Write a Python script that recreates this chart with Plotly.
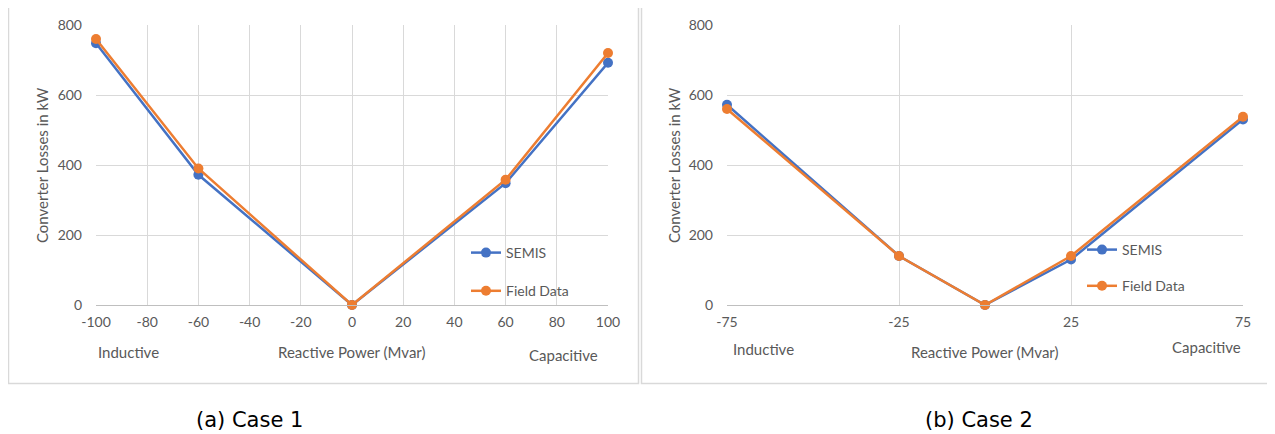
import plotly.graph_objects as go

# Case 1 data
x1 = [-100, -60, 0, 60, 100]
semis1 = [748, 372, 0, 348, 692]
field1 = [760, 390, 0, 358, 720]
x1_ticks = [-100, -80, -60, -40, -20, 0, 20, 40, 60, 80, 100]

# Case 2 data
x2 = [-75, -25, 0, 25, 75]
semis2 = [572, 140, 0, 130, 530]
field2 = [560, 140, 0, 140, 538]
x2_ticks = [-75, -25, 25, 75]

y_ticks = [0, 200, 400, 600, 800]

BLUE = "#4472C4"
ORANGE = "#ED7D31"
GRID = "#d9d9d9"
TXT = "#595959"
FONT = "Lato, Open Sans, sans-serif"

OFF = 8  # page body margin
W, H = 1275 - OFF, 434 - OFF


def px(x):
    return (x - OFF) / W


def py(y):
    return 1 - (y - OFF) / H


fig = go.Figure()

for (xs, s, f, xa, ya, lg) in [
    (x1, semis1, field1, "x", "y", "legend"),
    (x2, semis2, field2, "x2", "y2", "legend2"),
]:
    fig.add_trace(go.Scatter(x=xs, y=s, name="SEMIS", mode="lines+markers",
                             line=dict(color=BLUE, width=2.5),
                             marker=dict(color=BLUE, size=10),
                             xaxis=xa, yaxis=ya, legend=lg, legendgroup="a" + xa,
                             cliponaxis=False))
    fig.add_trace(go.Scatter(x=xs, y=f, name="Field Data", mode="lines+markers",
                             line=dict(color=ORANGE, width=2.5),
                             marker=dict(color=ORANGE, size=10),
                             xaxis=xa, yaxis=ya, legend=lg, legendgroup="b" + xa,
                             cliponaxis=False))

axis_common = dict(showgrid=True, gridcolor=GRID, gridwidth=1, zeroline=False,
                   tickfont=dict(family=FONT, size=14, color=TXT), ticks="",
                   fixedrange=True, automargin=False)


def lbl(v):
    return str(v).replace("\u2212", "-")


fig.update_layout(
    width=W, height=H,
    margin=dict(l=0, r=0, t=0, b=0, autoexpand=False),
    paper_bgcolor="white", plot_bgcolor="white",
    showlegend=True,
    xaxis=dict(domain=[px(96), px(608)], range=[-100, 100], tickvals=x1_ticks,
               ticktext=[lbl(v) for v in x1_ticks], ticklabelstandoff=4,
               anchor="y", showline=True, linecolor="#bfbfbf", **axis_common),
    yaxis=dict(domain=[py(305), py(25)], range=[0, 800], tickvals=y_ticks,
               anchor="x", showline=False, ticklabelstandoff=13, **axis_common),
    xaxis2=dict(domain=[px(727), px(1243)], range=[-75, 75], tickvals=x2_ticks,
                ticktext=[lbl(v) for v in x2_ticks], ticklabelstandoff=4,
                anchor="y2", showline=True, linecolor="#bfbfbf", **axis_common),
    yaxis2=dict(domain=[py(305), py(25)], range=[0, 800], tickvals=y_ticks,
                anchor="x2", showline=False, ticklabelstandoff=13, **axis_common),
    legend=dict(x=px(466), y=py(237), xanchor="left", yanchor="top",
                bgcolor="rgba(0,0,0,0)", font=dict(family=FONT, size=14, color=TXT),
                traceorder="grouped", tracegroupgap=17, itemwidth=30),
    legend2=dict(x=px(1082), y=py(234), xanchor="left", yanchor="top",
                 bgcolor="rgba(0,0,0,0)", font=dict(family=FONT, size=14, color=TXT),
                 traceorder="grouped", tracegroupgap=15, itemwidth=30),
)

# panel borders
fig.add_shape(type="rect", xref="paper", yref="paper",
              x0=px(8.5), x1=px(638.5), y0=py(383.5), y1=py(5.5),
              line=dict(color=GRID, width=1.5), layer="below")
fig.add_shape(type="rect", xref="paper", yref="paper",
              x0=px(641.5), x1=px(1270.5), y0=py(383.5), y1=py(5.5),
              line=dict(color=GRID, width=1.5), layer="below")

ann_font = dict(family=FONT, size=15, color=TXT)
annotations = [
    # Case 1
    dict(text="Converter Losses in kW", x=px(42), y=py(165), textangle=-90),
    dict(text="Inductive", x=px(96), y=py(352), xanchor="left"),
    dict(text="Reactive Power (Mvar)", x=px(352), y=py(352)),
    dict(text="Capacitive", x=px(600), y=py(355), xanchor="right"),
    # Case 2
    dict(text="Converter Losses in kW", x=px(674), y=py(165), textangle=-90),
    dict(text="Inductive", x=px(731), y=py(349), xanchor="left"),
    dict(text="Reactive Power (Mvar)", x=px(985), y=py(352)),
    dict(text="Capacitive", x=px(1243), y=py(347), xanchor="right"),
]
for a in annotations:
    a.update(xref="paper", yref="paper", showarrow=False, font=ann_font)
    a.setdefault("xanchor", "center")
    a["yanchor"] = "middle"
    fig.add_annotation(**a)

cap_font = dict(family="DejaVu Sans", size=21, color="#000000")
fig.add_annotation(text="(a) Case 1", x=px(249), y=py(420), xref="paper", yref="paper",
                   showarrow=False, font=cap_font, xanchor="center", yanchor="middle")
fig.add_annotation(text="(b) Case 2", x=px(979), y=py(420), xref="paper", yref="paper",
                   showarrow=False, font=cap_font, xanchor="center", yanchor="middle")

fig.write_html("out.html")
